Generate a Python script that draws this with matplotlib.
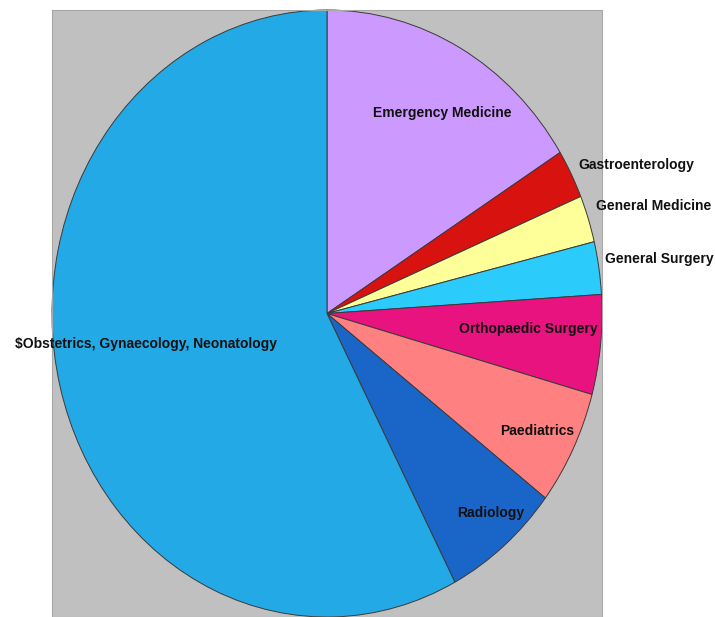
import numpy as np
import matplotlib
matplotlib.use("Agg")
import matplotlib.pyplot as plt

# share of admissions by specialty, clockwise from 12 o'clock
specialties = [
    "Emergency Medicine",
    "Gastroenterology",
    "General Medicine",
    "General Surgery",
    "Orthopaedic Surgery",
    "Paediatrics",
    "Radiology",
    "$Obstetrics, Gynaecology, Neonatology",
]
shares = [16.1, 2.6, 2.5, 2.8, 5.3, 6.1, 6.9, 57.7]

COLORS = ["#cc99ff", "#d7120f", "#ffff99", "#2bcbfc",
          "#e8137f", "#ff8080", "#1a66c8", "#22a9e6"]

# label placement in axes units (pie radius = 1), and text alignment
LABEL_XY = [(0.42, 0.66), (0.913, 0.49), (0.978, 0.353), (1.012, 0.18),
            (0.731, -0.05), (0.764, -0.386), (0.596, -0.657), (-1.135, -0.102)]
LABEL_HA = ["center", "left", "left", "left", "center", "center", "center", "left"]

W, H = 715, 617
fig = plt.figure(figsize=(W / 100, H / 100), dpi=100)
ax = fig.add_axes([52 / W, 0 / H, 550 / W, 607 / H])

wedges, _ = ax.pie(shares, colors=COLORS, startangle=90, counterclock=False,
                   wedgeprops={"edgecolor": "#3a3a3a", "linewidth": 0.7})

ax.set_aspect("auto")
ax.set_xlim(-1.0, 1.0)
ax.set_ylim(-1.0, 1.0)
ax.set_facecolor("#c0c0c0")
ax.set_frame_on(True)
for sp in ax.spines.values():
    sp.set_edgecolor("#a8a8a8")
    sp.set_linewidth(0.8)
ax.set_xticks([])
ax.set_yticks([])

for name, (x, y), ha in zip(specialties, LABEL_XY, LABEL_HA):
    # the "$" is literal text, not mathtext
    ax.text(x, y, name.replace("$", r"\$"), ha=ha, va="center",
            fontsize=10, fontweight="bold", family="Liberation Sans",
            color="#111111", clip_on=False)

fig.savefig("out.png", dpi=100, facecolor="white")
